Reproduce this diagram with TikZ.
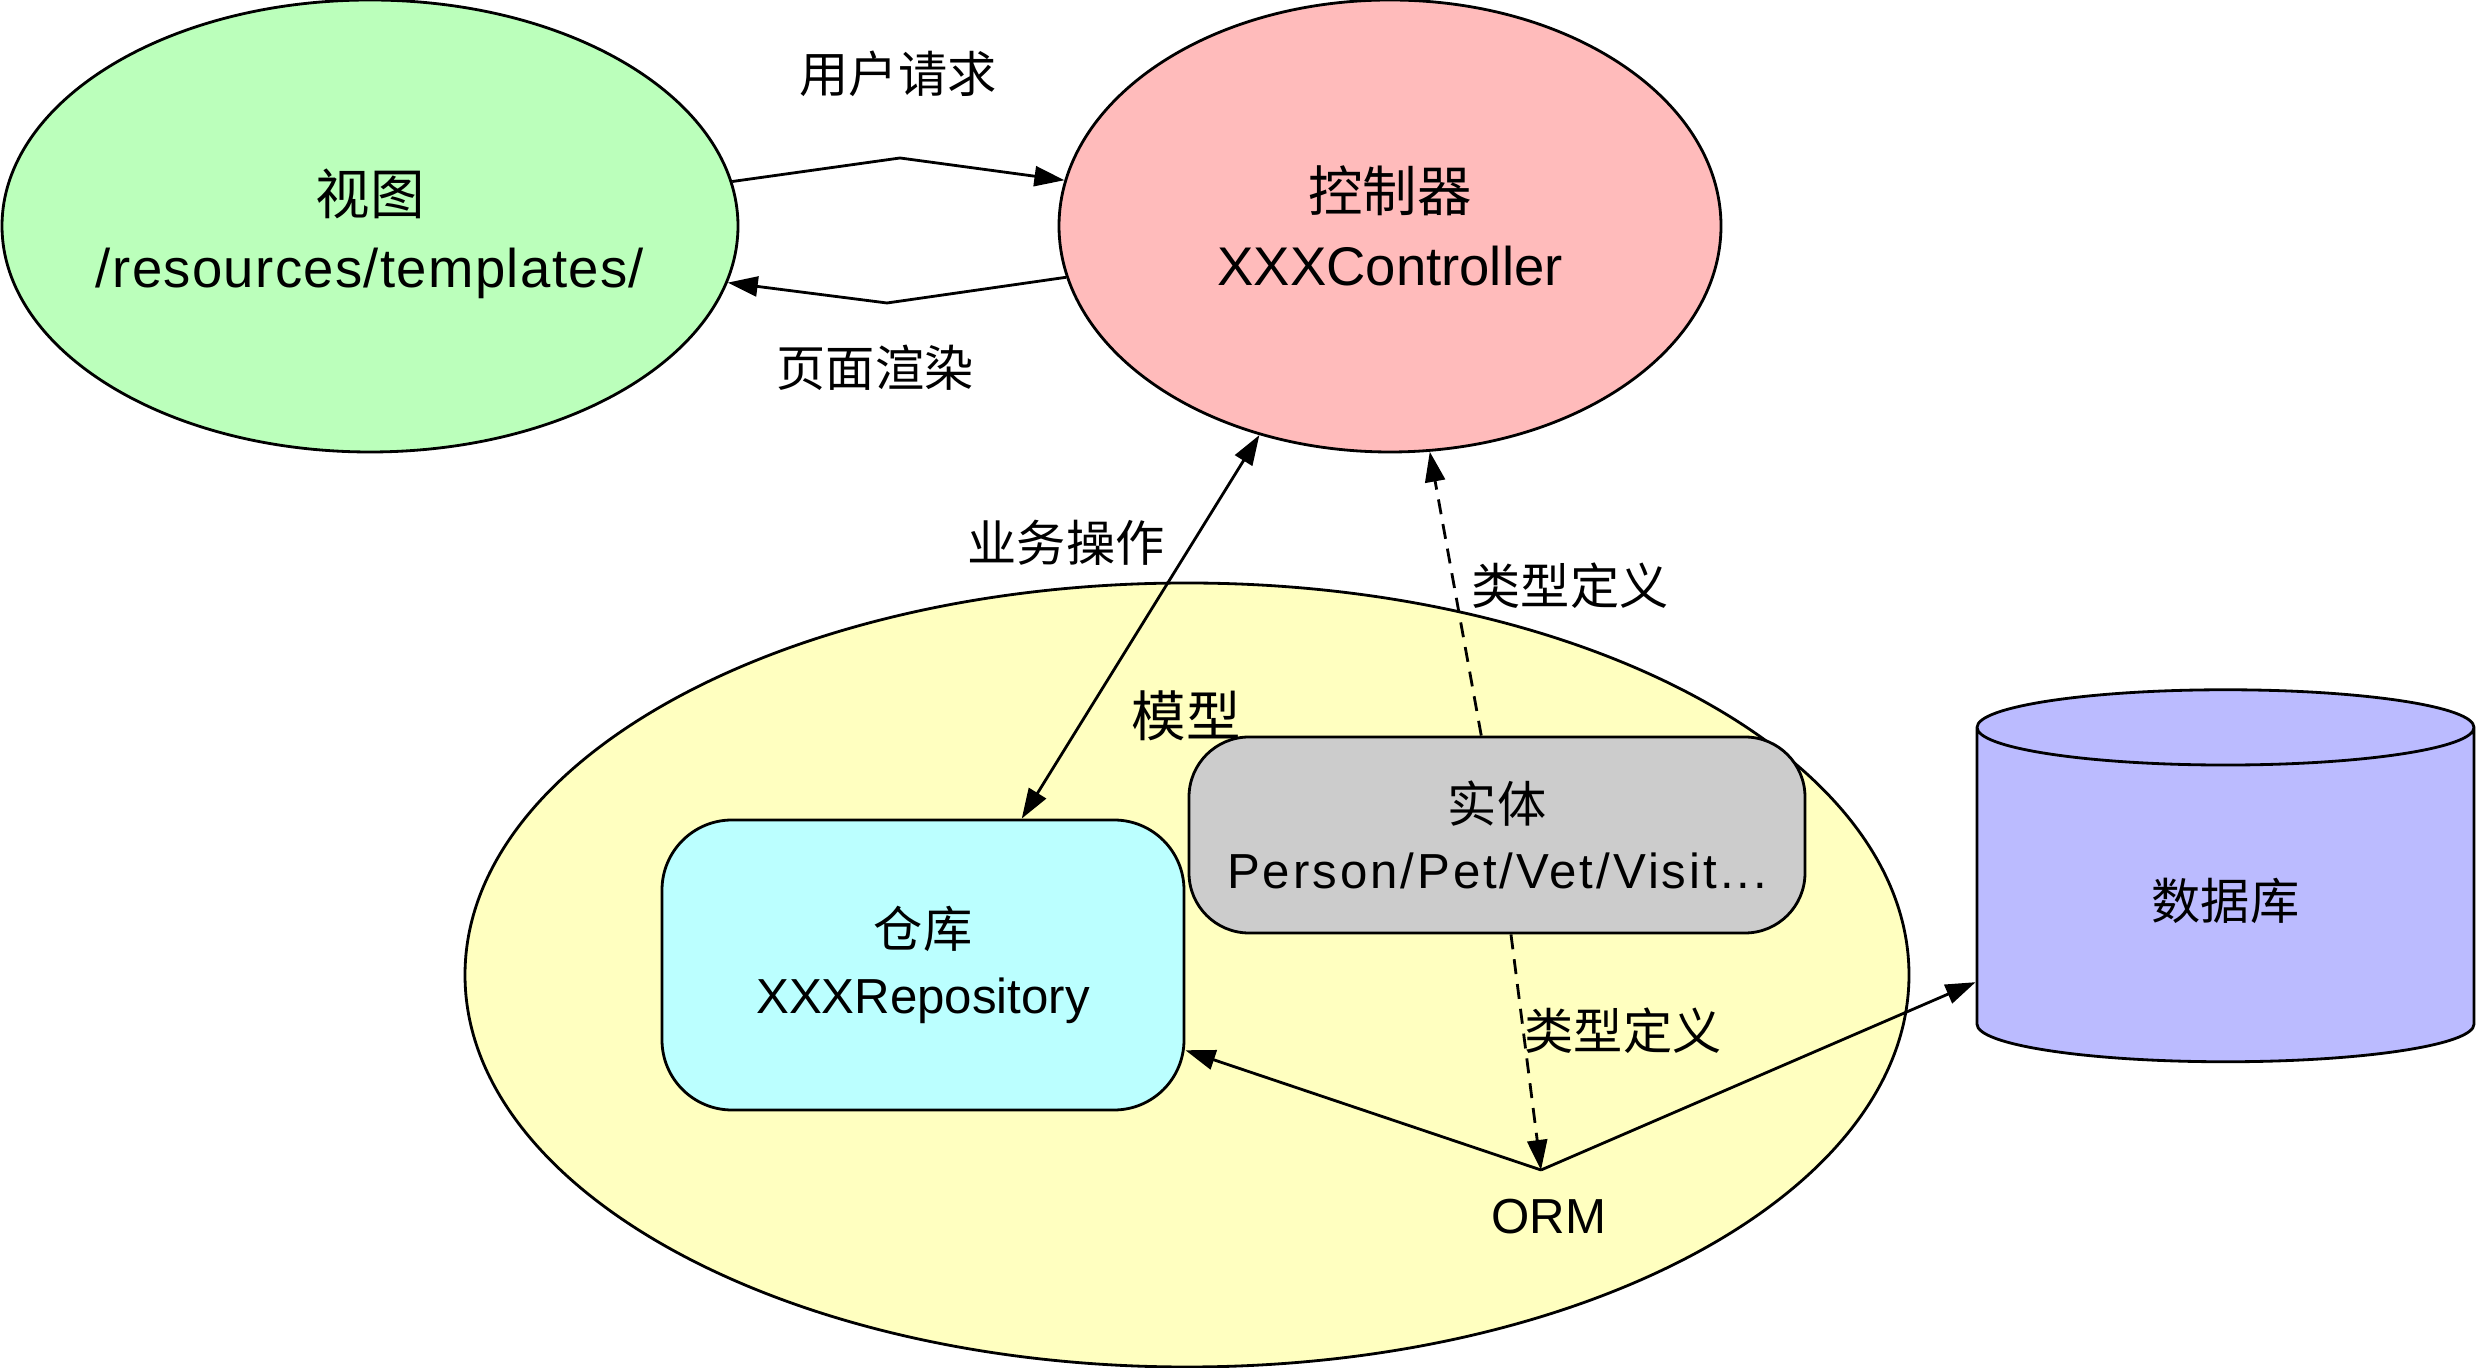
\documentclass[tikz,border=0pt]{standalone}
\usepackage{fontspec}
\setmainfont{Liberation Sans}
\newfontfamily\cjk{Noto Sans CJK SC}
\usetikzlibrary{shapes.geometric,arrows.meta}
\definecolor{viewgreen}{HTML}{BBFFBB}
\definecolor{ctrlpink}{HTML}{FFBBBB}
\definecolor{modelyellow}{HTML}{FFFFC0}
\definecolor{repocyan}{HTML}{BBFFFF}
\definecolor{entitygray}{HTML}{CCCCCC}
\definecolor{dbblue}{HTML}{BBBBFF}

\begin{document}
\begin{tikzpicture}[
    every node/.style={font=\fontsize{14pt}{17pt}\selectfont},
    bigblob/.style={ellipse,draw,line width=0.8pt,align=center,
      font=\fontsize{15.5pt}{19pt}\selectfont},
    blob/.style={rectangle,draw,line width=0.8pt,rounded corners=0.7cm,align=center},
    link/.style={line width=0.8pt,-{Triangle[length=3mm,width=2mm]}},
    twoway/.style={line width=0.8pt,{Triangle[length=3mm,width=2mm]}-{Triangle[length=3mm,width=2mm]}},
    typedef/.style={link,dash pattern=on 1.5mm off 1mm},
    tag/.style={font=\fontsize{14pt}{17pt}\selectfont\cjk}]
  \useasboundingbox (0,0) rectangle (24.76,13.68);
  \node[bigblob,fill=viewgreen,minimum width=7.36cm,minimum height=4.52cm] (view) at (3.70,11.42)
    {\rule{0pt}{6.2mm}{\cjk 视图}\\[1.8pt]\makebox[3cm]{\addfontfeature{LetterSpace=2.5}/resources/templates/}};
  \node[bigblob,fill=ctrlpink,minimum width=6.62cm,minimum height=4.52cm] (ctrl) at (13.90,11.42)
    {{\cjk 控制器}\\[2pt]XXXController};
  \node[ellipse,draw,line width=0.8pt,fill=modelyellow,minimum width=14.44cm,minimum height=7.84cm] (model) at (11.87,3.93) {};
  \node[font=\fontsize{15.5pt}{19pt}\selectfont\cjk] (modellabel) at (11.86,6.52) {模型};
  \node[blob,fill=repocyan,minimum width=5.22cm,minimum height=2.90cm] (repo) at (9.23,4.03)
    {{\cjk 仓库}\\[2pt]XXXRepository};
  \node[blob,fill=entitygray,minimum width=6.16cm,minimum height=1.96cm,rounded corners=0.6cm] (entity) at (14.97,5.33)
    {{\cjk 实体}\\[2pt]{\addfontfeature{LetterSpace=6}Person/Pet/Vet/Visit...}};
  \node[cylinder,shape border rotate=90,aspect=0.44,draw,line width=0.8pt,fill=dbblue,
    minimum width=4.97cm,minimum height=3.72cm] (db) at (22.255,4.67) {\cjk 数据库};
  \coordinate (orm) at (15.41,1.98);
  \node (ormlabel) at (15.49,1.51) {ORM};

  \draw[link] (view.7.6) -- (9.00,12.10) -- (ctrl.172);
  \draw[link] (ctrl.189.3) -- (8.87,10.65) -- (view.-9);
  \node[tag] (reqlabel) at (8.98,12.94) {用户请求};
  \node[tag] (renderlabel) at (8.75,10.00) {页面渲染};
  \draw[twoway] (ctrl.238.2) -- (repo.56.8);
  \node[tag] (oplabel) at (10.66,8.25) {业务操作};
  \draw[typedef] (entity.99.3) -- (ctrl.280.5);
  \node[tag] (typelabela) at (15.70,7.82) {类型定义};
  \draw[typedef] (entity.278.1) -- (orm);
  \node[tag] (typelabelb) at (16.23,3.37) {类型定义};
  \draw[link] (orm) -- (repo.-18.9);
  \draw[link] (orm) -- (db.198.6);
\end{tikzpicture}
\end{document}
